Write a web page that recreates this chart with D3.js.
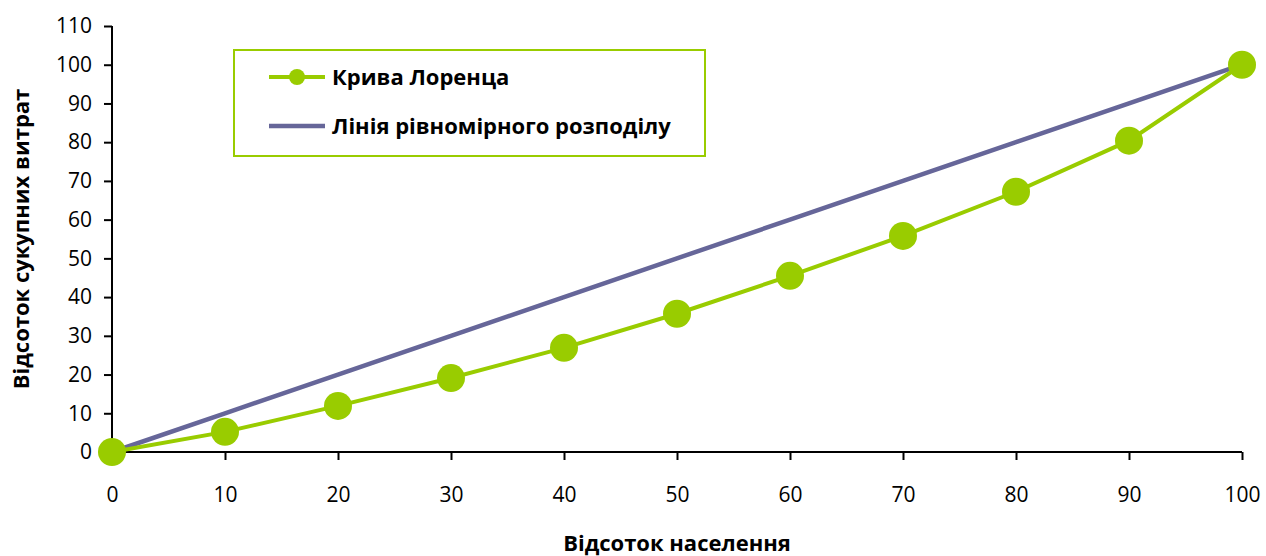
<!DOCTYPE html>
<html><head><meta charset="utf-8">
<script src="https://cdn.jsdelivr.net/npm/d3@7"></script>
<style>body{margin:0;background:#fff}svg{display:block}</style>
</head><body>
<svg id="c" width="1266" height="556"></svg>
<script>
const population = [0,10,20,30,40,50,60,70,80,90,100];
const lorenz = [0,5.2,11.9,19.1,26.9,35.7,45.5,55.8,67.2,80.4,100];
const equality = [0,10,20,30,40,50,60,70,80,90,100];
const xTicks = [0,10,20,30,40,50,60,70,80,90,100];
const yTicks = [0,10,20,30,40,50,60,70,80,90,100,110];
const seriesNames = ["Крива Лоренца","Лінія рівномірного розподілу"];
const xTitle = "Відсоток населення";
const yTitle = "Відсоток сукупних витрат";

const svg = d3.select("#c");
const font = "'Open Sans', sans-serif";
const x = d3.scaleLinear().domain([0,100]).range([112,1242]);
const y = d3.scaleLinear().domain([0,110]).range([452,26]);
const green = "#99CC00", purple = "#666699";

const ya = svg.append("g").attr("transform","translate(112,0)")
  .call(d3.axisLeft(y).tickValues(yTicks).tickSize(8).tickPadding(12).tickFormat(d3.format("d")));
const xa = svg.append("g").attr("transform","translate(0,452)")
  .call(d3.axisBottom(x).tickValues(xTicks).tickSize(8).tickPadding(27).tickFormat(d3.format("d")));
[ya,xa].forEach(a=>{
  a.selectAll("path,line").attr("stroke","#000").attr("stroke-width",2);
  a.selectAll("text").attr("font-family",font).attr("font-size",21).attr("fill","#000");
});
ya.select(".domain").attr("d","M0,452V26");
xa.select(".domain").attr("d","M112,0H1242");

const line = d3.line();
svg.append("path").attr("d",line(population.map((p,i)=>[x(p),y(equality[i])])))
  .attr("fill","none").attr("stroke",purple).attr("stroke-width",4.5);
svg.append("path").attr("d",line(population.map((p,i)=>[x(p),y(lorenz[i])])))
  .attr("fill","none").attr("stroke",green).attr("stroke-width",4);
svg.selectAll("circle.pt").data(population).join("circle").attr("class","pt")
  .attr("cx",(p)=>x(p)).attr("cy",(p,i)=>y(lorenz[i])).attr("r",14).attr("fill",green);

// legend
const lg = svg.append("g");
lg.append("rect").attr("x",234).attr("y",50).attr("width",471).attr("height",106)
  .attr("fill","#fff").attr("stroke",green).attr("stroke-width",2);
lg.append("line").attr("x1",269).attr("x2",325).attr("y1",77).attr("y2",77).attr("stroke",green).attr("stroke-width",4);
lg.append("circle").attr("cx",297).attr("cy",77).attr("r",8).attr("fill",green);
lg.append("line").attr("x1",269).attr("x2",325).attr("y1",126).attr("y2",126).attr("stroke",purple).attr("stroke-width",4.5);
lg.selectAll("text").data(seriesNames).join("text")
  .attr("x",332).attr("y",(d,i)=>77+i*49).attr("dy","0.35em")
  .attr("font-family",font).attr("font-weight","bold").attr("font-size",22).text(d=>d);

svg.append("text").attr("x",677).attr("y",551).attr("text-anchor","middle")
  .attr("font-family",font).attr("font-weight","bold").attr("font-size",22).text(xTitle);
svg.append("text").attr("transform","translate(29,239) rotate(-90)").attr("text-anchor","middle")
  .attr("font-family",font).attr("font-weight","bold").attr("font-size",22).text(yTitle);
</script>
</body></html>
